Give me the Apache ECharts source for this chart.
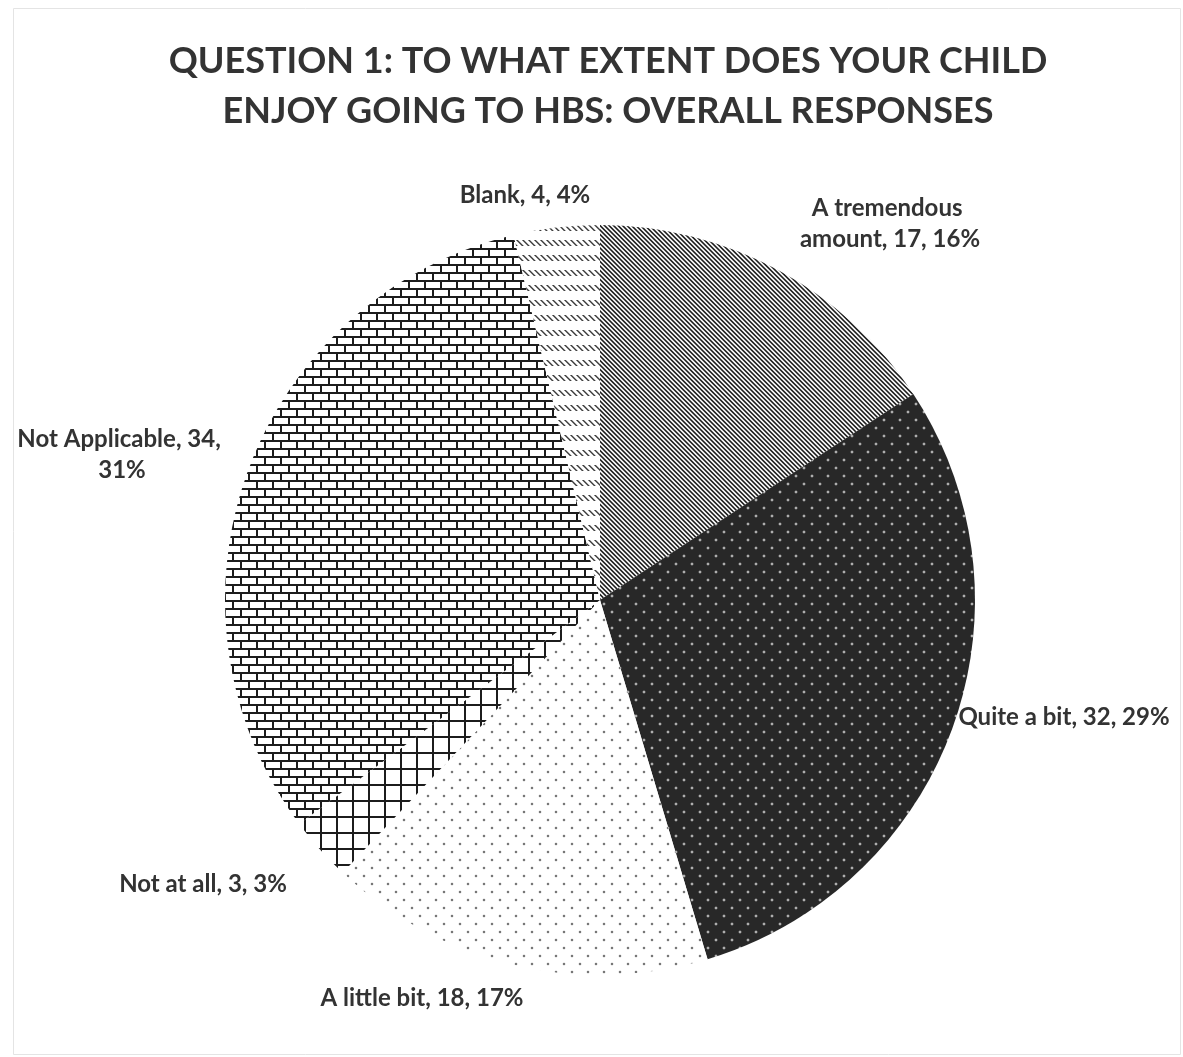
<!DOCTYPE html>
<html>
<head>
<meta charset="utf-8">
<title>Question 1 – Overall responses</title>
<script src="https://cdn.jsdelivr.net/npm/echarts@6/dist/echarts.min.js"></script>
<style>
  html, body { margin: 0; padding: 0; background: #ffffff; }
  #chart { width: 1183px; height: 1057px; }
</style>
</head>
<body>
<div id="chart"></div>
<script>
// Survey answers, in clockwise order from twelve o'clock
const categories = ['A tremendous amount', 'Quite a bit', 'A little bit', 'Not at all', 'Not Applicable', 'Blank'];
const counts = [17, 32, 18, 3, 34, 4];

const titleText = 'QUESTION 1: TO WHAT EXTENT DOES YOUR CHILD\nENJOY GOING TO HBS: OVERALL RESPONSES';

// Build a repeating fill tile by shading each pixel (supersampled for smooth edges)
function makeTile(w, h, bg, fg, inkFn) {
  const c = document.createElement('canvas');
  c.width = w; c.height = h;
  const ctx = c.getContext('2d');
  const img = ctx.createImageData(w, h);
  const ss = 4;
  for (let y = 0; y < h; y++) {
    for (let x = 0; x < w; x++) {
      let ink = 0;
      for (let sy = 0; sy < ss; sy++) {
        for (let sx = 0; sx < ss; sx++) {
          if (inkFn(x + (sx + 0.5) / ss, y + (sy + 0.5) / ss)) ink++;
        }
      }
      const t = ink / (ss * ss);
      const i = (y * w + x) * 4;
      for (let k = 0; k < 3; k++) img.data[i + k] = Math.round(bg[k] * (1 - t) + fg[k] * t);
      img.data[i + 3] = 255;
    }
  }
  ctx.putImageData(img, 0, 0);
  return { image: c, repeat: 'repeat' };
}

const mod = (a, m) => ((a % m) + m) % m;
const WHITE = [255, 255, 255];
const INK = [28, 28, 28];

// staggered dot lattice: rows every 8px, dots every 16px, alternate rows shifted
function dotAt(x, y, r) {
  const d1 = Math.hypot(x - 4, y - 4);
  const d2 = Math.hypot(x - 12, y - 12);
  return Math.min(d1, d2) < r;
}

const fills = [
  // downward diagonal hatching
  makeTile(9, 9, WHITE, [30, 30, 30], (x, y) => mod(x - y, 4.5) < 2.2),
  // dark ground with light dots
  makeTile(16, 16, [40, 40, 40], [175, 175, 175], (x, y) => dotAt(x, y, 1.4)),
  // light ground with small dots
  makeTile(16, 16, WHITE, [110, 110, 110], (x, y) => dotAt(x, y, 1.2)),
  // large grid
  makeTile(16, 16, WHITE, INK, (x, y) => x < 2 || y < 2),
  // horizontal brick
  makeTile(16, 16, WHITE, INK, (x, y) =>
    mod(y, 8) < 2 || (y < 8 ? x < 2 : (x >= 8 && x < 10))),
  // dashed downward diagonal
  makeTile(6, 15, WHITE, [60, 60, 60], (x, y) => y < 6 && mod(x - y, 6) < 1.9)
];

// where each category's text sits around the pie
const labelSpots = [
  { x: 890, y: 224 },
  { x: 1064, y: 717 },
  { x: 422, y: 998 },
  { x: 203, y: 884 },
  { x: 122, y: 455 },
  { x: 525, y: 195 }
];
const labelWraps = [185, null, null, null, 230, null];

const chart = echarts.init(document.getElementById('chart'), null, { renderer: 'canvas' });

const TEXT = '#333333';
const FONT = 'Lato, "Open Sans", sans-serif';

chart.setOption({
  backgroundColor: '#ffffff',
  animation: false,
  title: {
    text: titleText,
    left: 603,
    textAlign: 'center',
    top: 31,
    textStyle: {
      fontFamily: FONT,
      fontWeight: 'bold',
      fontSize: 36,
      lineHeight: 50,
      color: TEXT
    }
  },
  graphic: [{
    type: 'rect',
    silent: true,
    shape: { x: 13.5, y: 8.5, width: 1167, height: 1046 },
    style: { fill: 'none', stroke: '#e4e4e4', lineWidth: 1 }
  }],
  series: [{
    type: 'pie',
    center: [600, 600],
    radius: 375,
    startAngle: 90,
    clockwise: true,
    percentPrecision: 0,
    avoidLabelOverlap: false,
    itemStyle: { borderWidth: 0 },
    label: {
      show: true,
      position: 'outside',
      formatter: '{b}, {c}, {d}%',
      fontFamily: FONT,
      fontWeight: 'bold',
      fontSize: 24,
      lineHeight: 31,
      color: TEXT,
      align: 'center'
    },
    labelLine: { show: false },
    labelLayout: function (params) {
      const p = labelSpots[params.dataIndex];
      return { x: p.x, y: p.y, align: 'center', verticalAlign: 'middle' };
    },
    emphasis: { disabled: true },
    data: categories.map((name, i) => ({
      name: name,
      value: counts[i],
      itemStyle: { color: fills[i] },
      label: labelWraps[i] ? { width: labelWraps[i], overflow: 'break' } : {}
    }))
  }]
});
</script>
</body>
</html>
